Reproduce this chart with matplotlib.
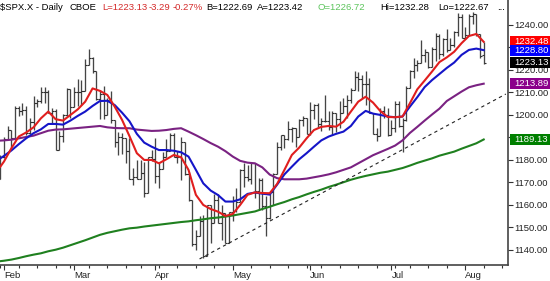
import numpy as np
import pandas as pd
import matplotlib
matplotlib.use("Agg")
import matplotlib.pyplot as plt
from matplotlib.patches import Rectangle
from matplotlib.ticker import FixedLocator, FormatStrFormatter

plt.rcParams['font.family'] = ['Liberation Sans', 'DejaVu Sans']

# ---------------- data ----------------
holidays = ['2005-02-21', '2005-03-25', '2005-05-30', '2005-07-04']
dates = pd.bdate_range('2005-01-31', '2005-08-08', freq='C', holidays=holidays)
axis_dates = pd.bdate_range('2005-01-31', '2005-08-19', freq='C', holidays=holidays)

opens = [1171.4, 1181.3, 1189.4, 1193.2, 1189.9, 1203.0, 1201.7, 1202.3, 1192.0, 1197.0,
         1205.3, 1206.1, 1210.1, 1210.3, 1200.8, 1201.6, 1184.2, 1190.8, 1200.2, 1211.4,
         1203.6, 1210.4, 1210.1, 1210.5, 1222.1, 1225.3, 1219.4, 1207.0, 1209.3, 1200.1,
         1206.8, 1197.8, 1188.1, 1190.2, 1189.7, 1183.8, 1171.7, 1172.5, 1171.4, 1174.3,
         1165.4, 1181.4, 1180.6, 1172.9, 1176.1, 1181.4, 1184.1, 1191.1, 1181.2, 1181.2,
         1187.8, 1173.8, 1162.1, 1142.6, 1146.0, 1152.8, 1137.5, 1160.0, 1152.1, 1162.1,
         1151.8, 1156.4, 1143.2, 1156.9, 1162.2, 1161.2, 1175.7, 1172.6, 1171.4, 1178.8,
         1166.2, 1171.1, 1159.4, 1154.1, 1165.7, 1173.8, 1185.6, 1191.1, 1189.3, 1193.9,
         1194.1, 1190.0, 1197.6, 1198.8, 1191.5, 1202.2, 1204.3, 1196.0, 1197.5, 1197.3,
         1194.7, 1200.9, 1198.1, 1200.8, 1203.9, 1206.6, 1211.0, 1217.0, 1216.1, 1213.6,
         1213.9, 1200.7, 1191.6, 1190.7, 1201.6, 1199.9, 1191.3, 1194.4, 1205.0, 1194.9,
         1197.9, 1211.9, 1219.4, 1222.2, 1223.3, 1226.5, 1227.9, 1221.1, 1229.4, 1235.2,
         1227.0, 1233.7, 1229.0, 1231.2, 1236.8, 1243.7, 1234.2, 1235.4, 1244.1, 1245.0,
         1235.9, 1226.7]
highs = [1182.1, 1190.4, 1195.3, 1193.2, 1204.1, 1204.2, 1205.1, 1203.8, 1198.8, 1208.4,
         1206.9, 1212.4, 1212.4, 1211.3, 1202.9, 1202.5, 1193.0, 1200.4, 1212.0, 1211.4,
         1212.3, 1215.8, 1215.7, 1224.8, 1229.1, 1225.7, 1219.4, 1211.2, 1213.0, 1207.4,
         1210.6, 1197.8, 1192.3, 1191.9, 1189.7, 1189.6, 1176.3, 1180.1, 1179.9, 1179.1,
         1181.5, 1184.5, 1189.8, 1178.6, 1183.6, 1189.3, 1191.9, 1191.8, 1184.1, 1190.2,
         1187.8, 1174.7, 1162.1, 1148.9, 1155.3, 1155.6, 1159.9, 1160.0, 1164.8, 1164.8,
         1159.9, 1156.4, 1156.9, 1164.1, 1167.7, 1176.0, 1178.6, 1177.8, 1178.9, 1178.8,
         1171.8, 1172.0, 1163.8, 1165.8, 1174.4, 1187.9, 1191.1, 1191.1, 1197.4, 1194.7,
         1194.1, 1198.0, 1199.6, 1198.8, 1205.6, 1204.7, 1205.1, 1198.8, 1208.9, 1201.6,
         1201.9, 1201.0, 1206.0, 1207.5, 1208.8, 1212.2, 1219.6, 1219.1, 1217.7, 1219.6,
         1216.5, 1200.7, 1194.3, 1203.3, 1204.1, 1203.3, 1197.9, 1206.1, 1206.1, 1198.5,
         1212.7, 1220.0, 1225.5, 1224.5, 1233.2, 1229.5, 1228.0, 1230.3, 1236.6, 1235.8,
         1234.0, 1238.4, 1234.4, 1237.1, 1245.2, 1245.0, 1239.1, 1244.7, 1245.9, 1245.0,
         1235.9, 1232.3]
lows = [1171.4, 1180.9, 1189.4, 1185.6, 1189.9, 1199.6, 1200.2, 1191.1, 1191.5, 1193.3,
        1203.6, 1205.5, 1205.1, 1200.7, 1196.0, 1184.2, 1184.2, 1187.8, 1199.6, 1198.8,
        1203.6, 1204.2, 1204.5, 1210.5, 1222.1, 1218.6, 1206.7, 1198.2, 1198.2, 1200.1,
        1196.4, 1185.6, 1182.4, 1182.8, 1178.8, 1171.6, 1168.7, 1171.4, 1171.4, 1163.7,
        1165.4, 1179.5, 1169.9, 1167.7, 1176.1, 1181.4, 1183.8, 1181.2, 1178.7, 1170.9,
        1173.3, 1161.7, 1141.9, 1139.8, 1146.0, 1136.2, 1137.5, 1142.9, 1152.1, 1151.8,
        1144.4, 1143.2, 1143.2, 1152.8, 1156.7, 1161.2, 1167.8, 1170.5, 1169.4, 1163.3,
        1157.7, 1157.8, 1146.2, 1153.6, 1159.9, 1173.8, 1184.5, 1185.2, 1188.8, 1188.0,
        1185.9, 1190.0, 1195.3, 1191.5, 1191.0, 1198.4, 1194.8, 1192.7, 1196.9, 1193.3,
        1191.1, 1192.6, 1194.0, 1200.8, 1198.7, 1205.5, 1211.0, 1210.6, 1207.4, 1204.6,
        1200.7, 1191.5, 1188.3, 1190.5, 1198.7, 1190.5, 1191.3, 1192.5, 1194.8, 1183.6,
        1197.2, 1211.9, 1216.6, 1219.6, 1223.3, 1223.5, 1221.0, 1221.1, 1224.1, 1224.7,
        1226.2, 1228.2, 1229.0, 1230.0, 1235.2, 1234.2, 1233.8, 1235.4, 1240.6, 1235.2,
        1225.5, 1222.7]
closes = [1181.3, 1189.4, 1193.2, 1189.9, 1203.0, 1201.7, 1202.3, 1192.0, 1197.0, 1205.3,
          1206.1, 1210.1, 1210.3, 1200.8, 1201.6, 1184.2, 1190.8, 1200.2, 1211.4, 1203.6,
          1210.4, 1210.1, 1210.5, 1222.1, 1225.3, 1219.4, 1207.0, 1209.3, 1200.1, 1206.8,
          1197.8, 1188.1, 1190.2, 1189.7, 1183.8, 1171.7, 1172.5, 1171.4, 1174.3, 1165.4,
          1181.4, 1180.6, 1172.9, 1176.1, 1181.4, 1184.1, 1191.1, 1181.2, 1181.2, 1187.8,
          1173.8, 1162.1, 1142.6, 1146.0, 1152.8, 1137.5, 1160.0, 1152.1, 1162.1, 1151.8,
          1156.4, 1143.2, 1156.9, 1162.2, 1161.2, 1175.7, 1172.6, 1171.4, 1178.8, 1166.2,
          1171.1, 1159.4, 1154.1, 1165.7, 1173.8, 1185.6, 1191.1, 1189.3, 1193.9, 1194.1,
          1190.0, 1197.6, 1198.8, 1191.5, 1202.2, 1204.3, 1196.0, 1197.5, 1197.3, 1194.7,
          1200.9, 1198.1, 1200.8, 1203.9, 1206.6, 1211.0, 1217.0, 1216.1, 1213.6, 1213.9,
          1200.7, 1191.6, 1190.7, 1201.6, 1199.9, 1191.3, 1194.4, 1205.0, 1194.9, 1197.9,
          1211.9, 1219.4, 1222.2, 1223.3, 1226.5, 1227.9, 1221.1, 1229.4, 1235.2, 1227.0,
          1233.7, 1229.0, 1231.2, 1236.8, 1243.7, 1234.2, 1235.4, 1244.1, 1245.0, 1235.9,
          1226.4, 1223.1]

# moving averages read at every other session (first session, then 2nd, 4th, ...)
ma10 = [1177.0,
        1179.3, 1185.2, 1190.4, 1192.2, 1194.5, 1198.5, 1201.5, 1198.1, 1197.5, 1200.0,
        1202.5, 1205.9, 1211.8, 1210.7, 1208.9, 1203.7, 1197.8, 1190.6, 1183.0, 1180.0,
        1180.0, 1178.5, 1180.3, 1182.2, 1181.2, 1175.6, 1164.5, 1160.0, 1158.2, 1157.0,
        1155.1, 1156.0, 1160.0, 1164.5, 1165.6, 1165.3, 1165.2, 1169.3, 1175.6, 1182.2,
        1185.5, 1189.6, 1193.3, 1194.7, 1195.1, 1194.8, 1197.0, 1201.5, 1205.9, 1208.1,
        1205.5, 1201.7, 1199.1, 1199.0, 1199.3, 1205.2, 1211.4, 1215.3, 1219.3, 1223.5,
        1225.6, 1228.1, 1231.9, 1235.1, 1236.0, 1232.5]
ma20 = [1180.7,
        1181.8, 1184.2, 1187.0, 1189.6, 1191.9, 1193.6, 1196.0, 1196.0, 1195.7, 1197.5,
        1199.6, 1201.5, 1204.0, 1206.2, 1206.3, 1204.4, 1201.0, 1197.2, 1191.6, 1187.7,
        1185.9, 1184.4, 1184.4, 1184.1, 1183.4, 1181.5, 1175.6, 1169.6, 1166.4, 1164.4,
        1161.5, 1161.5, 1162.5, 1164.9, 1165.5, 1165.0, 1164.6, 1169.0, 1173.6, 1177.0,
        1180.3, 1183.0, 1185.9, 1188.7, 1190.4, 1191.6, 1192.6, 1195.1, 1199.3, 1201.8,
        1200.6, 1200.0, 1199.3, 1199.0, 1199.3, 1203.7, 1207.9, 1212.4, 1215.5, 1218.2,
        1220.9, 1223.3, 1226.7, 1228.9, 1229.5, 1228.8]
ma50 = [1188.6,
        1188.7, 1189.0, 1189.6, 1190.2, 1190.8, 1191.9, 1193.0, 1193.5, 1193.6, 1193.9,
        1194.2, 1194.5, 1194.8, 1195.1, 1194.5, 1194.2, 1194.1, 1194.1, 1193.5, 1193.2,
        1192.9, 1193.0, 1193.3, 1193.8, 1194.1, 1192.6, 1191.0, 1189.3, 1187.5, 1185.9,
        1183.9, 1181.5, 1179.6, 1178.8, 1178.5, 1176.7, 1173.5, 1171.9, 1171.4, 1171.4,
        1171.4, 1171.7, 1172.3, 1172.9, 1173.6, 1174.5, 1175.6, 1176.7, 1178.5, 1180.3,
        1182.1, 1183.5, 1184.9, 1186.4, 1188.7, 1192.0, 1194.7, 1197.5, 1200.2, 1202.8,
        1206.2, 1208.3, 1210.4, 1212.3, 1213.2, 1213.9]
ma200 = [1135.0,
         1135.2, 1135.7, 1136.4, 1137.2, 1137.9, 1138.5, 1139.4, 1140.1, 1141.0, 1142.1,
         1143.2, 1144.3, 1145.5, 1146.7, 1147.6, 1148.3, 1149.0, 1149.6, 1149.9, 1150.4,
         1150.8, 1151.2, 1151.6, 1152.0, 1152.4, 1152.7, 1153.2, 1153.6, 1154.1, 1154.4,
         1154.8, 1155.3, 1155.9, 1156.5, 1157.1, 1158.2, 1159.2, 1160.3, 1161.3, 1162.5,
         1163.5, 1164.7, 1165.8, 1166.8, 1168.0, 1169.0, 1170.1, 1171.2, 1172.1, 1172.9,
         1173.6, 1174.3, 1174.8, 1175.6, 1176.4, 1177.5, 1178.7, 1179.7, 1180.7, 1181.9,
         1182.8, 1183.7, 1185.0, 1186.2, 1187.4, 1189.1]

trend_dates = ['2005-04-19', '2005-08-16']
trend_vals = [1136.0, 1209.3]

last_vals = [1232.48, 1228.80, 1223.13, 1213.89, 1189.13]
last_labels = ['1232.48', '1228.80', '1223.13', '1213.89', '1189.13']
last_colors = ['#ff0000', '#0000ff', '#000000', '#8b008b', '#008000']

yticks = [1140, 1150, 1160, 1170, 1180, 1190, 1200, 1210, 1220, 1230, 1240]

header = [("$SPX.X - Daily", 0, '#000000'), ("CBOE", 70, '#000000'),
          ("L=1223.13", 102, '#d42a2a'), ("-3.29", 149, '#d42a2a'), ("-0.27%", 173, '#d42a2a'),
          ("B=1222.69", 206, '#000000'), ("A=1223.42", 257, '#000000'),
          ("O=1226.72", 318, '#5cc45c'), ("Hi=1232.28", 380, '#000000'),
          ("Lo=1222.67", 438, '#000000'), ("...", 497, '#000000')]

FS = 6.8

# ---------------- figure ----------------
W, H = 550, 281
fig = plt.figure(figsize=(W / 100, H / 100), dpi=100)
fig.patch.set_facecolor('white')
ax = fig.add_axes([0, 16 / H, 508 / W, 265 / H])

pos = {d: i for i, d in enumerate(axis_dates)}
x = np.array([pos[d] for d in dates])

# OHLC bars
ax.vlines(x, lows, highs, color='#454545', lw=0.95, zorder=2)
ax.hlines(opens, x - 0.55, x, color='#303030', lw=0.8, zorder=2)
ax.hlines(closes, x, x + 0.55, color='#303030', lw=0.8, zorder=2)

# moving averages
sel = [0] + list(range(1, len(dates), 2))
xm = x[sel]
ax.plot(xm, ma200, color='#1f801f', lw=1.5, zorder=3)
ax.plot(xm, ma50, color='#7a2282', lw=1.5, zorder=3)
ax.plot(xm, ma20, color='#1515c8', lw=1.5, zorder=4)
ax.plot(xm, ma10, color='#e01e1e', lw=1.5, zorder=5)

# trend line
tx = [pos[pd.Timestamp(d)] for d in trend_dates]
ax.plot(tx, trend_vals, color='#222222', lw=0.8, ls=(0, (3, 3)), zorder=3)

ax.set_xlim(pos[dates[1]] - 4 / 3.69, pos[dates[1]] + 504 / 3.69)
ax.set_ylim(1133.3, 1251.1)

for s in ['left', 'top']:
    ax.spines[s].set_visible(False)
for s in ['right', 'bottom']:
    ax.spines[s].set_color('#444444')
    ax.spines[s].set_linewidth(1.2)

# y axis on right
ax.yaxis.tick_right()
ax.set_yticks(yticks)
ax.yaxis.set_major_formatter(FormatStrFormatter('%.2f'))
ax.tick_params(axis='y', direction='out', length=3.6, width=0.8, pad=1.0,
               labelsize=FS, colors='#333333', labelcolor='#222222')

# x axis: months and weeks
ser = pd.Series(axis_dates, index=axis_dates)
month_first = ser.groupby([ser.dt.year, ser.dt.month]).first()
month_first = [d for d in month_first if d.month != 1]
week_first = ser.groupby(ser.dt.isocalendar().week).first()
ax.xaxis.set_major_locator(FixedLocator([pos[d] for d in month_first]))
ax.set_xticklabels([d.strftime('%b') for d in month_first], ha='left')
ax.xaxis.set_minor_locator(FixedLocator([pos[d] for d in week_first]))
ax.tick_params(axis='x', which='major', direction='out', length=3.8, width=0.8,
               pad=0.5, labelsize=FS, colors='#333333', labelcolor='#222222')
ax.tick_params(axis='x', which='minor', direction='out', length=2.2, width=0.8,
               colors='#333333')

# right-hand value boxes
tr = ax.get_yaxis_transform()
box_h = 11 * (1251.1 - 1133.3) / 265
for v, lab, c in zip(last_vals, last_labels, last_colors):
    ax.add_patch(Rectangle((1.003, v - box_h / 2), 45 / 508, box_h, transform=tr,
                           facecolor=c, edgecolor='none', clip_on=False, zorder=10))
    ax.text(1.012, v, lab, transform=tr, color='white', fontsize=FS,
            va='center', ha='left', clip_on=False, zorder=11)

# header
for txt, px, c in header:
    fig.text(px / W, 1 - 8 / H, txt, color=c, fontsize=FS, ha='left', va='center')

fig.savefig('out.png', dpi=100)
